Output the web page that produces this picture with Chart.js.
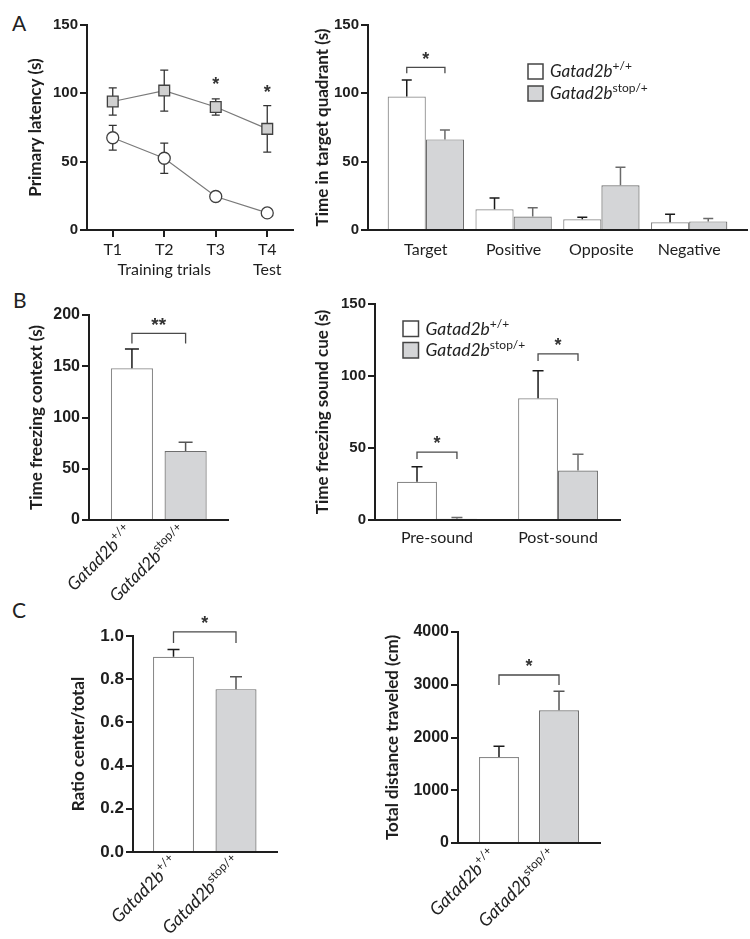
<!DOCTYPE html>
<html><head><meta charset="utf-8">
<script src="https://cdn.jsdelivr.net/npm/chart.js@4.4.1/dist/chart.umd.min.js"></script>
<style>
html,body{margin:0;padding:0;background:#fff;}
#wrap{position:relative;width:750px;height:939px;overflow:hidden;background:#fff;}
canvas{position:absolute;}
.pl{position:absolute;font-family:Lato;font-size:21px;line-height:21px;color:#222;}
</style></head><body>
<div id="wrap">
<div class="pl" style="left:12px;top:12px">A</div>
<div class="pl" style="left:13px;top:289px">B</div>
<div class="pl" style="left:12px;top:599px">C</div>
<canvas id="a1" width="330" height="290" style="left:0;top:0"></canvas>
<canvas id="a2" width="450" height="290" style="left:300px;top:0"></canvas>
<canvas id="b1" width="300" height="310" style="left:0;top:290px"></canvas>
<canvas id="b2" width="450" height="310" style="left:300px;top:290px"></canvas>
<canvas id="c1" width="330" height="339" style="left:0;top:600px"></canvas>
<canvas id="c2" width="420" height="339" style="left:330px;top:600px"></canvas>
</div>
<script>
// ================= DATA =================
const trialLabels = ['T1', 'T2', 'T3', 'T4'];
const trialSubLabels = ['', 'Training trials', '', 'Test'];
const latencyWT = [67.5, 52.5, 24.5, 12.5];
const latencyWTErr = [9, 11, 3, 2];
const latencyStop = [94, 102, 90, 74];
const latencyStopErr = [10, 15, 6, 17];
const latencyTicks = [0, 50, 100, 150];
const latencySigLevel = [null, null, 110, 104];

const quadrants = ['Target', 'Positive', 'Opposite', 'Negative'];
const quadWT = [97.6, 15.1, 7.8, 5.6];
const quadWTErr = [12.2, 8.3, 1.5, 5.9];
const quadStop = [66.3, 9.8, 32.7, 6.3];
const quadStopErr = [6.9, 6.5, 13.2, 2.2];
const quadTicks = [0, 50, 100, 150];
const quadSigLevel = [119, null, null, null];

const geneName = 'Gatad2b';
const genotypes = ['+/+', 'stop/+'];

const contextFreeze = [148, 67.3];
const contextFreezeErr = [18.8, 8.5];
const contextTicks = [0, 50, 100, 150, 200];
const contextSigLevel = 182;

const soundPhases = ['Pre-sound', 'Post-sound'];
const soundWT = [26.6, 84.5];
const soundWTErr = [10.4, 19.2];
const soundStop = [0.8, 34.3];
const soundStopErr = [1.0, 11.3];
const soundTicks = [0, 50, 100, 150];
const soundSigLevel = [47.2, 115.3];

const centerRatio = [0.904, 0.754];
const centerRatioErr = [0.034, 0.057];
const ratioTicks = [0, 0.2, 0.4, 0.6, 0.8, 1.0];
const ratioSigLevel = 1.019;

const distance = [1630, 2515];
const distanceErr = [202, 360];
const distanceTicks = [0, 1000, 2000, 3000, 4000];
const distanceSigLevel = 3185;

// ================= STYLE =================
const INK = '#1e1e1e';
const FILL_W = '#ffffff', FILL_G = '#d4d5d7';
const EDGE_W = '#8a8a8a', EDGE_G = '#6e6e6e';
const ERR_W = '#1a1a1a', ERR_G = '#6a6a6a';
const BRK = '#4a4a4a';
const NUM_FONT = '"Liberation Sans", Arial, sans-serif';

Chart.defaults.font.family = 'Lato';
Chart.defaults.color = INK;
Chart.defaults.animation = false;
Chart.defaults.plugins.legend.display = false;
Chart.defaults.plugins.tooltip.enabled = false;

const EXTRAS = {};

function partsFor(sup, size) {
  return [{t: geneName, f: 'italic ' + size + 'px Lato'}, {t: sup, f: Math.round(size * 0.68) + 'px Lato', r: size * 0.4}];
}
function richWidth(ctx, parts) {
  let w = 0; parts.forEach(p => { ctx.font = p.f; w += ctx.measureText(p.t).width; }); return w;
}
function drawRich(ctx, x, y, parts) {
  let cx = x;
  parts.forEach(p => { ctx.font = p.f; ctx.fillText(p.t, cx, y - (p.r || 0)); cx += ctx.measureText(p.t).width; });
}
function drawStar(ctx, x, yc, mark, size) {
  ctx.save();
  ctx.font = 'bold ' + size + 'px ' + NUM_FONT;
  ctx.fillStyle = '#333'; ctx.textAlign = 'center'; ctx.textBaseline = 'alphabetic';
  ctx.fillText(mark, x, yc + size * 0.58);
  ctx.restore();
}

function drawErrors(chart, ex) {
  const ctx = chart.ctx, ys = chart.scales.y;
  (ex.errors || []).forEach((e, di) => {
    if (!e) return;
    const meta = chart.getDatasetMeta(di);
    const ds = chart.data.datasets[di];
    meta.data.forEach((el, i) => {
      const d = ds.data[i];
      const v = (typeof d === 'object') ? d.y : d;
      const err = e.err[i];
      const yT = ys.getPixelForValue(v + err);
      const yB = e.both ? ys.getPixelForValue(v - err) : ys.getPixelForValue(v);
      ctx.save();
      ctx.strokeStyle = Array.isArray(e.color) ? e.color[i] : e.color;
      ctx.lineWidth = e.width || 1.4;
      ctx.beginPath();
      ctx.moveTo(el.x, yB); ctx.lineTo(el.x, yT);
      ctx.moveTo(el.x - e.cap, yT); ctx.lineTo(el.x + e.cap, yT);
      if (e.both) { ctx.moveTo(el.x - e.cap, yB); ctx.lineTo(el.x + e.cap, yB); }
      ctx.stroke();
      ctx.restore();
    });
  });
}

function drawAnnotations(chart, ex) {
  const ctx = chart.ctx, ys = chart.scales.y, xs = chart.scales.x, area = chart.chartArea;
  (ex.brackets || []).forEach(b => {
    const x1 = chart.getDatasetMeta(b.from[0]).data[b.from[1]].x;
    const x2 = chart.getDatasetMeta(b.to[0]).data[b.to[1]].x;
    const yL = ys.getPixelForValue(b.level);
    ctx.save();
    ctx.strokeStyle = BRK; ctx.lineWidth = 1.3;
    ctx.beginPath();
    ctx.moveTo(x1, yL + b.drop); ctx.lineTo(x1, yL); ctx.lineTo(x2, yL); ctx.lineTo(x2, yL + b.drop);
    ctx.stroke();
    ctx.restore();
    drawStar(ctx, (x1 + x2) / 2, yL - 13, b.mark, b.size || 18);
  });
  (ex.stars || []).forEach(s => {
    const el = chart.getDatasetMeta(s.at[0]).data[s.at[1]];
    drawStar(ctx, el.x, ys.getPixelForValue(s.level), s.mark, s.size || 18);
  });
  if (ex.legend) {
    const L = ex.legend;
    L.items.forEach((it, k) => {
      const bx = area.left + L.x, by = area.top + L.y + k * L.gap;
      ctx.save();
      ctx.fillStyle = it.fill; ctx.strokeStyle = '#444'; ctx.lineWidth = 1.5;
      ctx.fillRect(bx, by, L.box, L.box);
      ctx.strokeRect(bx, by, L.box, L.box);
      ctx.fillStyle = '#222'; ctx.textBaseline = 'alphabetic';
      drawRich(ctx, bx + L.box + 7, by + L.box - 2, it.parts);
      ctx.restore();
    });
  }
  if (ex.rot) {
    const R = ex.rot;
    R.items.forEach((parts, i) => {
      const ax = xs.getPixelForValue(i) + R.dx, ay = area.bottom + R.dy;
      ctx.save();
      ctx.translate(ax, ay); ctx.rotate(-Math.PI / 4);
      ctx.fillStyle = '#222'; ctx.textBaseline = 'alphabetic';
      const w = richWidth(ctx, parts);
      drawRich(ctx, -w, 5, parts);
      ctx.restore();
    });
  }
}

Chart.register({
  id: 'extras',
  beforeDatasetsDraw(chart) { const ex = EXTRAS[chart.canvas.id]; if (ex && ex.errorsFirst) drawErrors(chart, ex); },
  afterDatasetsDraw(chart) {
    const ex = EXTRAS[chart.canvas.id]; if (!ex) return;
    if (!ex.errorsFirst) drawErrors(chart, ex);
    drawAnnotations(chart, ex);
  }
});

function yScale(o) {
  return {
    type: 'linear', min: 0, max: o.max,
    afterBuildTicks: s => { s.ticks = o.ticks.map(v => ({value: v})); },
    ticks: {color: INK, font: {family: NUM_FONT, weight: 'bold', size: o.fs || 15}, padding: 2,
            callback: v => o.dec ? Number(v).toFixed(o.dec) : String(v)},
    grid: {display: true, drawOnChartArea: false, drawTicks: true, tickLength: 7, color: INK, lineWidth: 2},
    border: {display: true, color: INK, width: 2},
    title: {display: true, text: o.title, color: INK, font: {family: 'Lato', weight: 'bold', size: o.ts || 17},
            padding: {top: o.tpad, bottom: 0}},
    afterFit: s => { s.width = o.w; }
  };
}
function xBar(o) {
  return {
    type: 'linear', min: o.min, max: o.max, offset: false,
    afterBuildTicks: s => { s.ticks = o.labels.map((_, i) => ({value: i})); },
    ticks: {display: o.show, color: INK, font: {family: 'Lato', size: 16}, padding: o.pad || 8,
            maxRotation: 0, autoSkip: false, callback: v => o.labels[v]},
    grid: {display: false, drawTicks: false},
    border: {display: true, color: INK, width: 2},
    afterFit: s => { s.height = o.h; }
  };
}
const pts = arr => arr.map((v, i) => ({x: i, y: v}));

// ---------- A left: line chart ----------
EXTRAS.a1 = {
  errorsFirst: true,
  errors: [{err: latencyStopErr, color: '#333', cap: 4, both: true, width: 1.3},
           {err: latencyWTErr, color: '#333', cap: 4, both: true, width: 1.3}],
  stars: latencySigLevel.map((l, i) => l == null ? null : {at: [0, i], level: l, mark: '*'}).filter(Boolean)
};
new Chart(document.getElementById('a1'), {
  type: 'line',
  data: {
    labels: trialLabels.map((t, i) => [t, trialSubLabels[i]]),
    datasets: [
      {data: latencyStop, borderColor: '#7a7a7a', borderWidth: 1.2, pointStyle: 'rect', pointRadius: 7.6,
       pointBackgroundColor: '#d0d0d0', pointBorderColor: '#404040', pointBorderWidth: 1.3, tension: 0},
      {data: latencyWT, borderColor: '#7a7a7a', borderWidth: 1.2, pointStyle: 'circle', pointRadius: 6,
       pointBackgroundColor: '#ffffff', pointBorderColor: '#404040', pointBorderWidth: 1.3, tension: 0}
    ]
  },
  options: {
    responsive: false,
    layout: {padding: {left: 0, top: 25, right: 37, bottom: 0}},
    scales: {
      x: {type: 'category', offset: true,
          ticks: {color: INK, font: {family: 'Lato', size: 16, lineHeight: 1.25}, padding: 3, maxRotation: 0, autoSkip: false},
          grid: {display: true, drawOnChartArea: false, drawTicks: true, tickLength: 7, color: INK, lineWidth: 2, offset: false},
          border: {display: true, color: INK, width: 2},
          afterFit: s => { s.height = 60; }},
      y: yScale({max: 150, ticks: latencyTicks, title: 'Primary latency (s)', tpad: 25, w: 87})
    }
  }
});

// ---------- A right: grouped bars ----------
EXTRAS.a2 = {
  errors: [{err: quadWTErr, color: ERR_W, cap: 5, width: 1.5}, {err: quadStopErr, color: ERR_G, cap: 5, width: 1.5}],
  brackets: quadSigLevel.map((l, i) => l == null ? null : {from: [0, i], to: [1, i], level: l, drop: 6, mark: '*'}).filter(Boolean),
  legend: {x: 160, y: 39, box: 15, gap: 22, items: [
    {fill: FILL_W, parts: partsFor(genotypes[0], 17)},
    {fill: FILL_G, parts: partsFor(genotypes[1], 17)}]}
};
new Chart(document.getElementById('a2'), {
  type: 'bar',
  data: {datasets: [
    {data: pts(quadWT), backgroundColor: FILL_W, borderColor: EDGE_W, borderWidth: 1.2},
    {data: pts(quadStop), backgroundColor: FILL_G, borderColor: EDGE_G, borderWidth: 1.2}
  ]},
  options: {
    responsive: false, categoryPercentage: 0.87, barPercentage: 1,
    layout: {padding: {left: 0, top: 25, right: 3, bottom: 0}},
    scales: {
      x: xBar({min: -0.659, max: 3.659, labels: quadrants, show: true, pad: 10, h: 60}),
      y: yScale({max: 150, ticks: quadTicks, title: 'Time in target quadrant (s)', tpad: 12, w: 68})
    }
  }
});

// ---------- B left ----------
EXTRAS.b1 = {
  errors: [{err: contextFreezeErr, color: [ERR_W, '#555'], cap: 7, width: 1.5}],
  brackets: [{from: [0, 0], to: [0, 1], level: contextSigLevel, drop: 10, mark: '**', size: 19}],
  rot: {dx: -2, dy: 9, items: genotypes.map(g => partsFor(g, 17.5))}
};
new Chart(document.getElementById('b1'), {
  type: 'bar',
  data: {datasets: [
    {data: pts(contextFreeze), backgroundColor: [FILL_W, FILL_G], borderColor: [EDGE_W, EDGE_G], borderWidth: 1.2}
  ]},
  options: {
    responsive: false, categoryPercentage: 0.785, barPercentage: 1,
    layout: {padding: {left: 0, top: 25, right: 72, bottom: 0}},
    scales: {
      x: xBar({min: -0.80, max: 1.79, labels: genotypes, show: false, h: 80}),
      y: yScale({max: 200, ticks: contextTicks, title: 'Time freezing context (s)', tpad: 26, w: 89, fs: 16})
    }
  }
});

// ---------- B right ----------
EXTRAS.b2 = {
  errors: [{err: soundWTErr, color: ERR_W, cap: 5.5, width: 1.5}, {err: soundStopErr, color: ERR_G, cap: 5.5, width: 1.5}],
  brackets: soundSigLevel.map((l, i) => ({from: [0, i], to: [1, i], level: l, drop: 7, mark: '*'})),
  legend: {x: 28, y: 17, box: 15.5, gap: 21.5, items: [
    {fill: FILL_W, parts: partsFor(genotypes[0], 17.5)},
    {fill: FILL_G, parts: partsFor(genotypes[1], 17.5)}]}
};
new Chart(document.getElementById('b2'), {
  type: 'bar',
  data: {datasets: [
    {data: pts(soundWT), backgroundColor: FILL_W, borderColor: EDGE_W, borderWidth: 1.2},
    {data: pts(soundStop), backgroundColor: FILL_G, borderColor: EDGE_G, borderWidth: 1.2}
  ]},
  options: {
    responsive: false, categoryPercentage: 0.66, barPercentage: 1,
    layout: {padding: {left: 0, top: 14, right: 130, bottom: 0}},
    scales: {
      x: xBar({min: -0.512, max: 1.512, labels: soundPhases, show: true, pad: 8, h: 80}),
      y: yScale({max: 150, ticks: soundTicks, title: 'Time freezing sound cue (s)', tpad: 12, w: 75})
    }
  }
});

// ---------- C left ----------
EXTRAS.c1 = {
  errors: [{err: centerRatioErr, color: [ERR_W, '#555'], cap: 6, width: 1.5}],
  brackets: [{from: [0, 0], to: [0, 1], level: ratioSigLevel, drop: 11, mark: '*'}],
  rot: {dx: 2, dy: 8, items: genotypes.map(g => partsFor(g, 18))}
};
new Chart(document.getElementById('c1'), {
  type: 'bar',
  data: {datasets: [
    {data: pts(centerRatio), backgroundColor: [FILL_W, FILL_G], borderColor: [EDGE_W, EDGE_G], borderWidth: 1.2}
  ]},
  options: {
    responsive: false, categoryPercentage: 0.656, barPercentage: 1,
    layout: {padding: {left: 0, top: 36, right: 53, bottom: 0}},
    scales: {
      x: xBar({min: -0.648, max: 1.656, labels: genotypes, show: false, h: 87}),
      y: yScale({max: 1.0, ticks: ratioTicks, dec: 1, title: 'Ratio center/total', tpad: 68, w: 133, fs: 17})
    }
  }
});

// ---------- C right ----------
EXTRAS.c2 = {
  errors: [{err: distanceErr, color: [ERR_W, '#555'], cap: 5.5, width: 1.5}],
  brackets: [{from: [0, 0], to: [0, 1], level: distanceSigLevel, drop: 10, mark: '*'}],
  rot: {dx: -5, dy: 10, items: genotypes.map(g => partsFor(g, 18))}
};
new Chart(document.getElementById('c2'), {
  type: 'bar',
  data: {datasets: [
    {data: pts(distance), backgroundColor: [FILL_W, FILL_G], borderColor: [EDGE_W, EDGE_G], borderWidth: 1.2}
  ]},
  options: {
    responsive: false, categoryPercentage: 0.667, barPercentage: 1,
    layout: {padding: {left: 0, top: 32, right: 150, bottom: 0}},
    scales: {
      x: xBar({min: -0.683, max: 1.683, labels: genotypes, show: false, h: 96}),
      y: yScale({max: 4000, ticks: distanceTicks, title: 'Total distance traveled (cm)', tpad: 52, w: 128, fs: 16})
    }
  }
});
</script>
</body></html>
